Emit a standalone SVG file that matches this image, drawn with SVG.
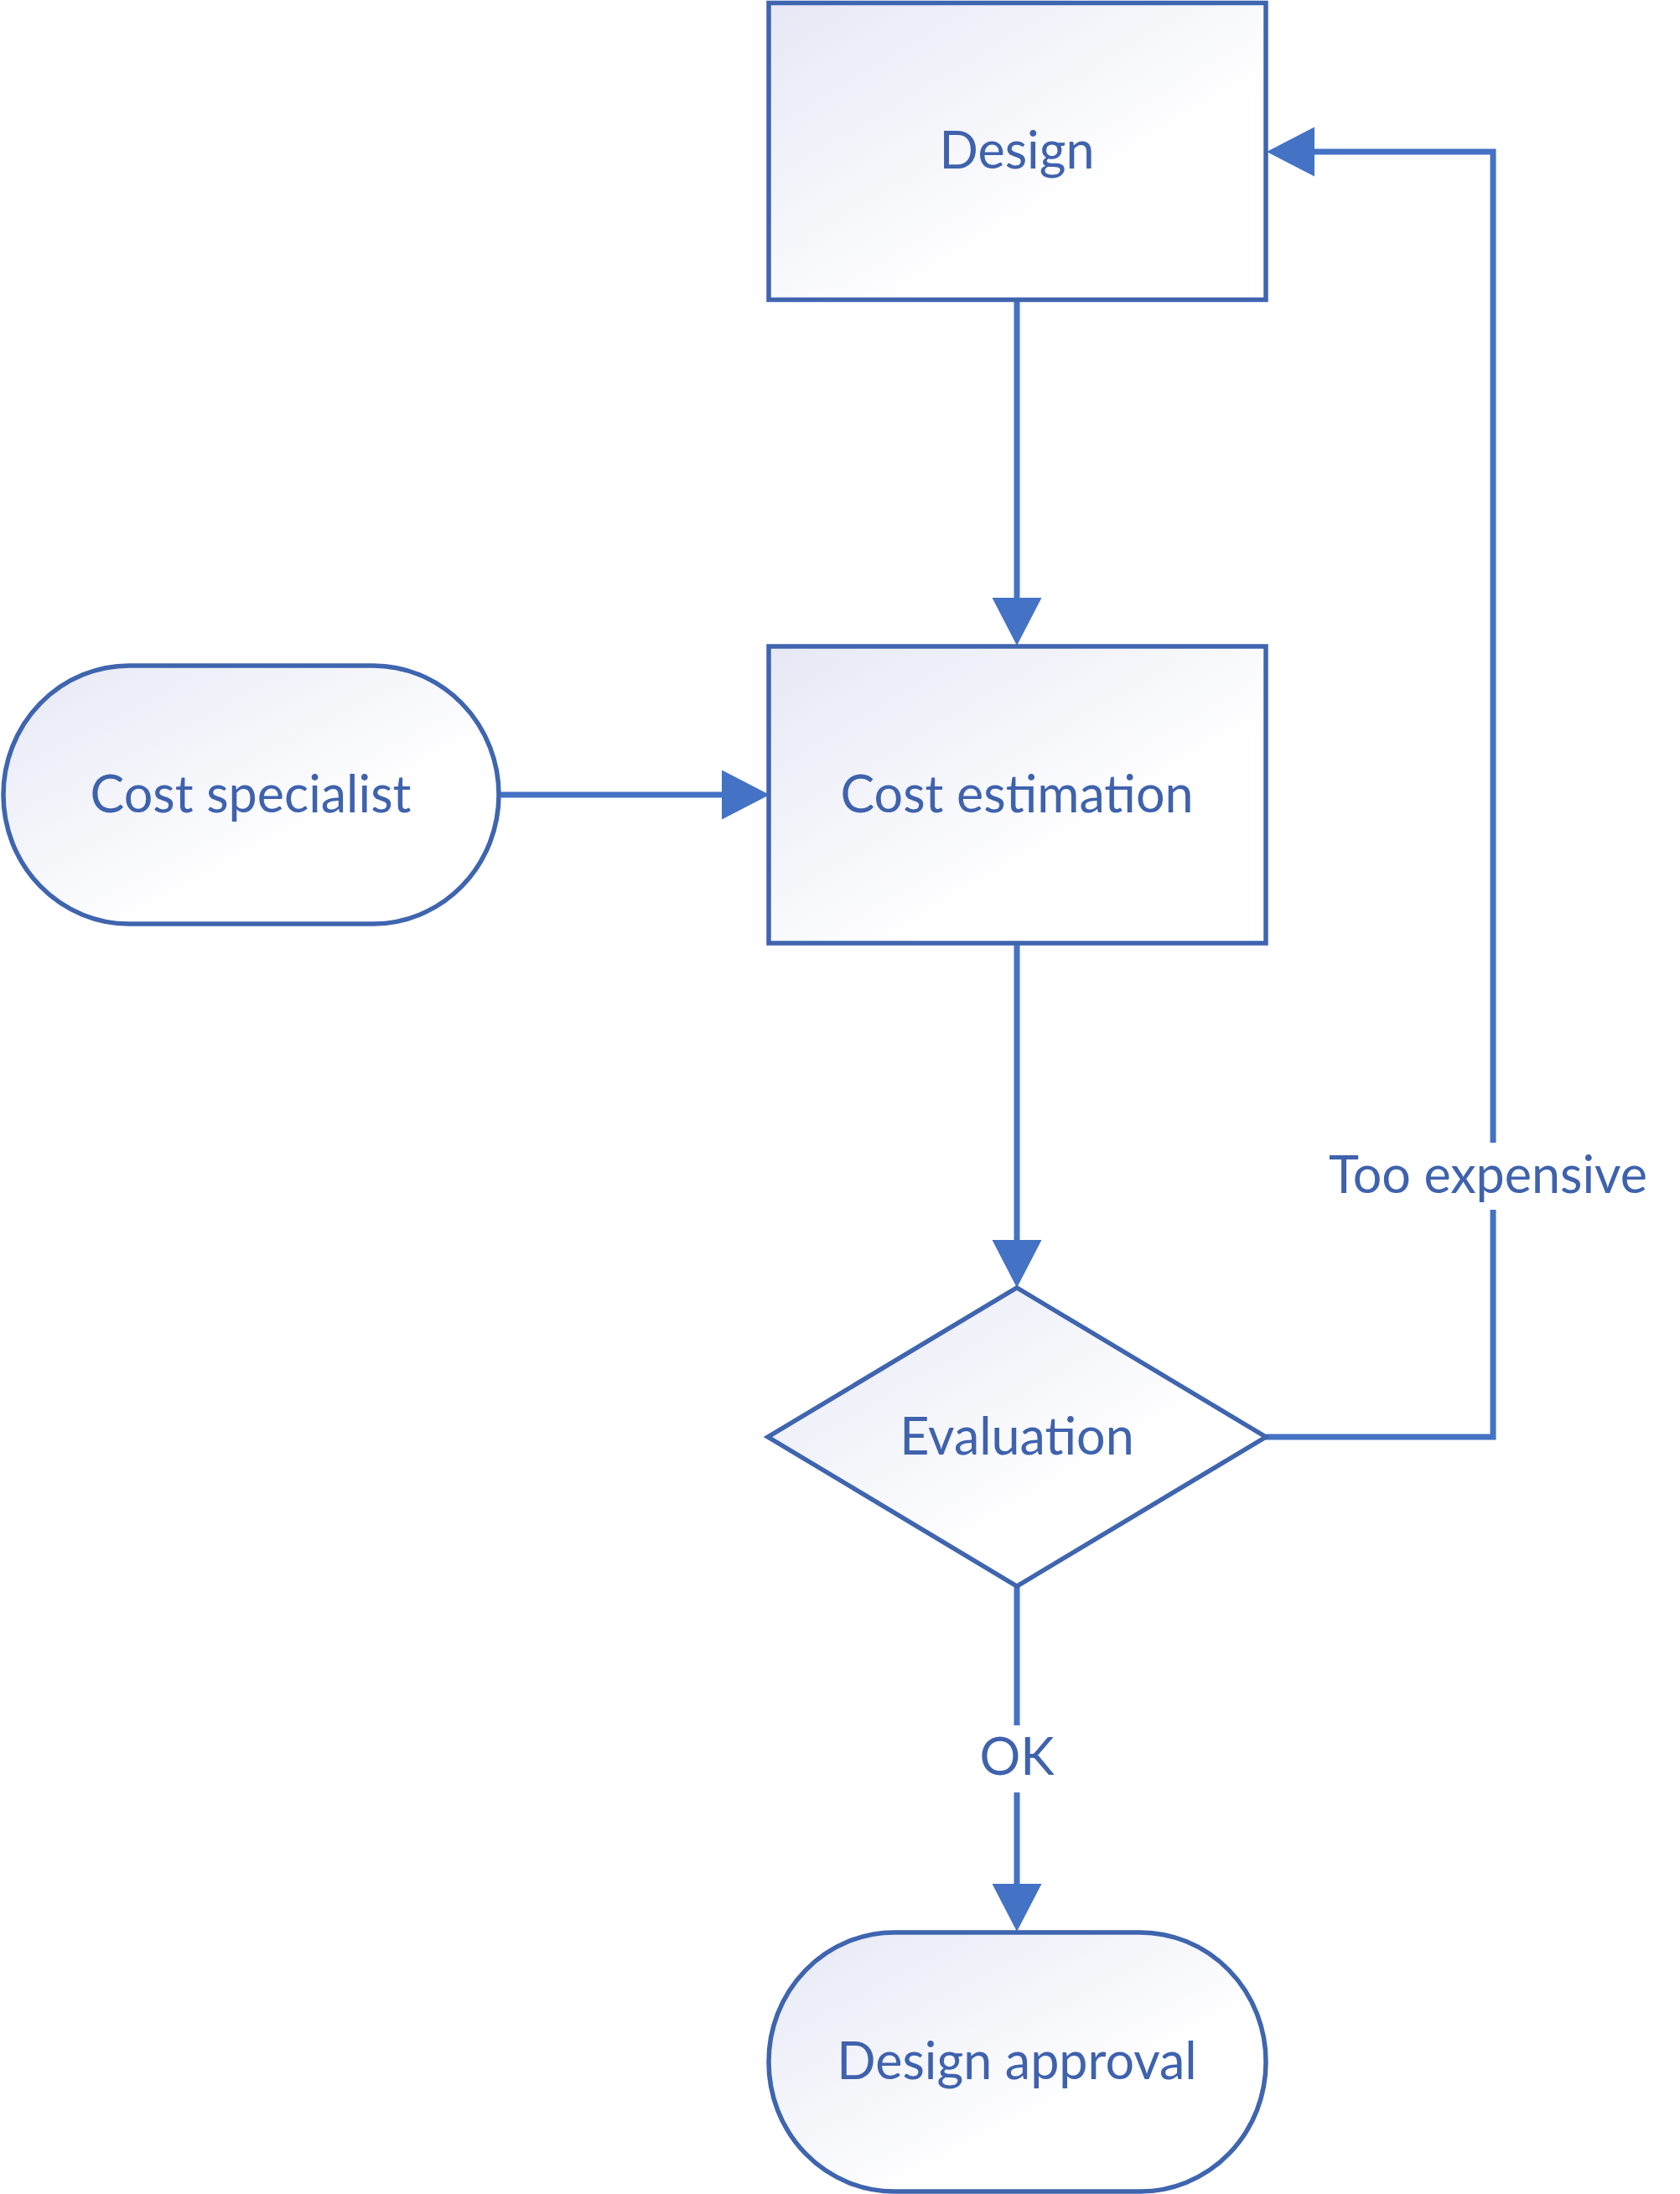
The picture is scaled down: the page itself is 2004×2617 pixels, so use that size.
<svg xmlns="http://www.w3.org/2000/svg" width="2004" height="2617" viewBox="0 0 2004 2617">
<defs>
<linearGradient id="fillGrad" x1="0" y1="0" x2="1" y2="1">
<stop offset="0" stop-color="#E6E8F5"/>
<stop offset="0.65" stop-color="#FFFFFF"/>
</linearGradient>
<marker id="arrow" markerUnits="userSpaceOnUse" markerWidth="58" markerHeight="60" viewBox="0 0 58 60" refX="0" refY="29.5" orient="auto">
<path d="M0,0 L57,29.5 L0,59 z" fill="#4472C4"/>
</marker>
</defs>
<style>
.shape { fill: url(#fillGrad); stroke: #3F65AF; stroke-width: 5.5; }
.conn { fill: none; stroke: #4472C4; stroke-width: 7; }
.label { font-family: Lato, "Liberation Sans", sans-serif; font-size: 61px; fill: #3F62AD; text-anchor: middle; }
</style>
<rect width="2004" height="2617" fill="#FFFFFF"/>
<g id="connectors">
<path class="conn" d="M1213,358 L1213,713" marker-end="url(#arrow)"/>
<path class="conn" d="M595,948 L861,948" marker-end="url(#arrow)"/>
<path class="conn" d="M1213,1125 L1213,1479" marker-end="url(#arrow)"/>
<path class="conn" d="M1510,1714 L1781,1714 L1781,1443 M1781,1363 L1781,181 L1568,181" marker-end="url(#arrow)"/>
<path class="conn" d="M1213,1892 L1213,2058 M1213,2138 L1213,2247" marker-end="url(#arrow)"/>
<text class="label" x="1775" y="1423">Too expensive</text>
<text class="label" x="1213" y="2117">OK</text>
</g>
<g id="design">
<rect class="shape" x="917" y="3.5" width="593" height="354"/>
<text class="label" x="1213" y="201">Design</text>
</g>
<g id="cost-specialist">
<rect class="shape" x="4" y="794" width="591" height="308" rx="150" ry="154"/>
<text class="label" x="299" y="969">Cost specialist</text>
</g>
<g id="cost-estimation">
<rect class="shape" x="917" y="771" width="593" height="354"/>
<text class="label" x="1213" y="969">Cost estimation</text>
</g>
<g id="evaluation">
<polygon class="shape" points="1213,1536 1510,1714 1213,1892 916,1714"/>
<text class="label" x="1213" y="1735">Evaluation</text>
</g>
<g id="design-approval">
<rect class="shape" x="917" y="2305" width="593" height="309" rx="150" ry="154"/>
<text class="label" x="1213" y="2480">Design approval</text>
</g>
</svg>
